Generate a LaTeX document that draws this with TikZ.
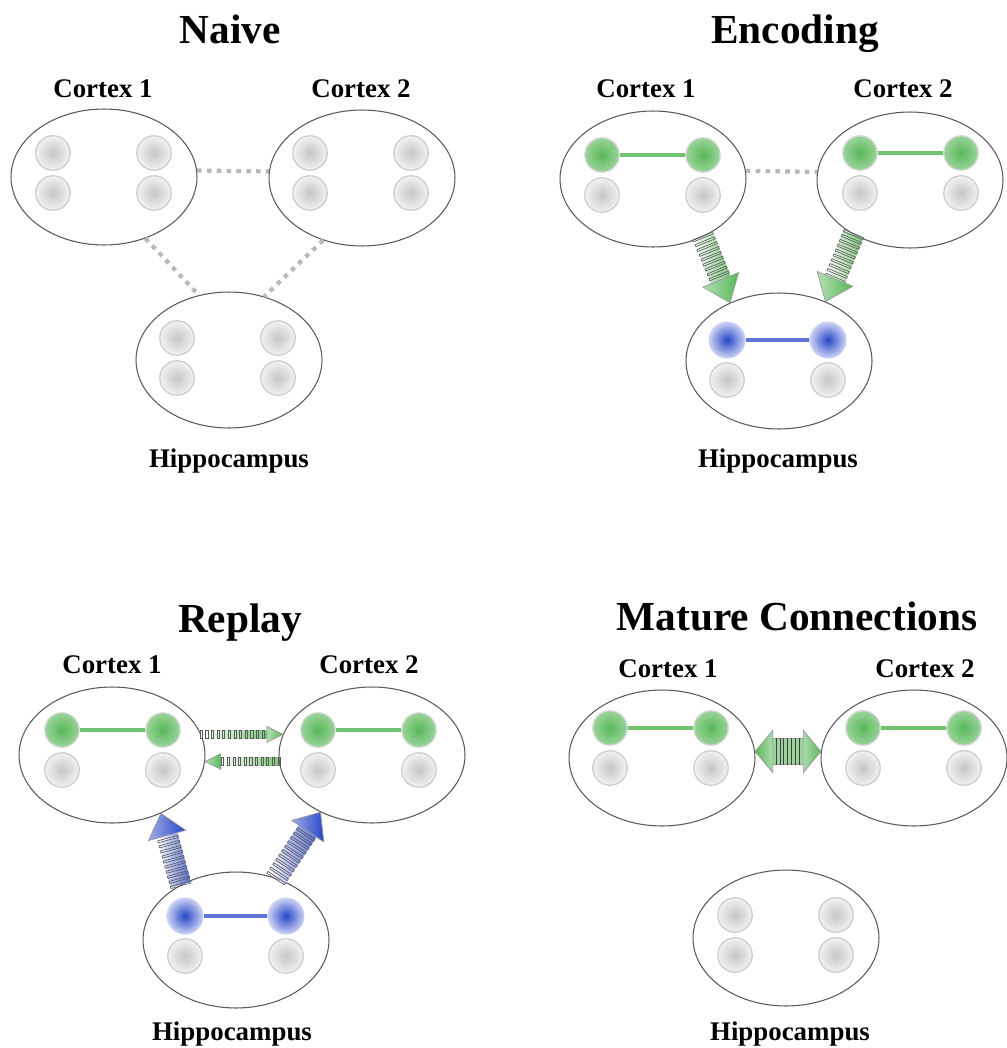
\documentclass[tikz,border=0pt]{standalone}
\usepackage{fontspec}
\setmainfont{Liberation Serif}
\usetikzlibrary{shapes.geometric,decorations.markings}

\definecolor{leafgreen}{RGB}{88,184,88}
\definecolor{palegreen}{RGB}{155,212,155}
\definecolor{inkblue}{RGB}{40,70,200}
\definecolor{paleblue}{RGB}{175,185,238}

\tikzset{
  region/.style={ellipse, draw=black!65, line width=0.6pt, minimum width=3.72cm, minimum height=2.72cm},
  neuron/.style={circle, minimum size=0.69cm, inner sep=0pt, draw=gray!40, line width=0.7pt, inner color=gray!45, outer color=gray!10},
  greenneuron/.style={neuron, draw=gray!30, inner color=leafgreen, outer color=palegreen},
  blueneuron/.style={circle, minimum size=0.74cm, inner sep=0pt, inner color=inkblue, outer color=paleblue!60},
  gline/.style={leafgreen!85, line width=2.6pt},
  bline/.style={inkblue!75, line width=2.2pt},
  link/.style={gray!55, line width=2.4pt, dash pattern=on 2.6pt off 3pt},
  stripe/.style={draw=black!65, line width=0.35pt},
  heading/.style={anchor=base, font=\bfseries\fontsize{23.5}{28}\selectfont},
  areaname/.style={anchor=base, font=\bfseries\fontsize{15.3}{18}\selectfont},
  % colour, half shaft, half head, head length, stripe step
  hatch arrow/.style n args={5}{
    decoration={markings,
      mark=at position 0 with {\shade[left color=white, right color=#1!80] (0,-#2) rectangle (\pgfdecoratedpathlength-#4,#2);},
      mark=between positions 0 and -#4 step #5 with {\draw[stripe] (-0.6pt,-#2) rectangle (0.6pt,#2);},
      mark=at position 1 with {\shadedraw[left color=#1!45, right color=#1, draw=gray!80] (0,0) -- (-#4,#3) -- (-#4,-#3) -- cycle;}},
    postaction=decorate},
  % colour, half shaft, half head, head length
  twin arrow/.style n args={4}{
    decoration={markings,
      mark=at position 0 with {\fill[#1!60] (#4,-#2) rectangle (\pgfdecoratedpathlength-#4,#2);
        \draw[gray!80] (#4,-#2) -- (\pgfdecoratedpathlength-#4,-#2) (#4,#2) -- (\pgfdecoratedpathlength-#4,#2);
        \shadedraw[left color=#1, right color=#1!50, draw=gray!80] (0,0) -- (#4,#3) -- (#4,-#3) -- cycle;},
      mark=between positions 12pt and -12pt step 2.2pt with {\draw[black!75, line width=0.5pt] (0,-#2) -- (0,#2);},
      mark=at position 1 with {\shadedraw[left color=#1!50, right color=#1, draw=gray!80] (0,0) -- (-#4,#3) -- (-#4,-#3) -- cycle;}},
    postaction=decorate},
}

% four cells: name, x and y of the top left one, top style, bottom style
\newcommand{\cellquad}[5]{%
  \node[#4] (#1a) at (#2,#3) {};
  \node[#4] (#1b) at (#2+101,#3) {};
  \node[#5] (#1c) at (#2,#3+40) {};
  \node[#5] (#1d) at (#2+101,#3+40) {};}

\begin{document}
\begin{tikzpicture}[x=0.02cm, y=-0.02cm]
    \useasboundingbox (0,0) rectangle (1007,1048);

    % Naive
    \node[heading] (n-title) at (230,43) {Naive};
    \node[region] (n-c1) at (104,177) {};
    \node[region] (n-c2) at (362,178) {};
    \node[region] (n-h) at (229,360) {};
    \node[areaname] (n-c1-name) at (103,97) {Cortex 1};
    \node[areaname] (n-c2-name) at (361,97) {Cortex 2};
    \node[areaname] (n-h-name) at (229,467) {Hippocampus};
    \cellquad{n-c1}{53}{153}{neuron}{neuron}
    \cellquad{n-c2}{310}{153}{neuron}{neuron}
    \cellquad{n-h}{177}{338}{neuron}{neuron}
    \draw[link] (n-c1.4) -- (n-c2.176);
    \draw[link] (n-c1.-56) -- (n-h.115);
    \draw[link] (n-c2.-122) -- (n-h.61);

    % Encoding
    \node[heading] (e-title) at (795,43) {Encoding};
    \node[region] (e-c1) at (653,179) {};
    \node[region] (e-c2) at (910,180) {};
    \node[region] (e-h) at (779,361) {};
    \node[areaname] (e-c1-name) at (646,97) {Cortex 1};
    \node[areaname] (e-c2-name) at (903,97) {Cortex 2};
    \node[areaname] (e-h-name) at (778,467) {Hippocampus};
    \cellquad{e-c1}{602}{155}{greenneuron}{neuron}
    \cellquad{e-c2}{860}{153}{greenneuron}{neuron}
    \cellquad{e-h}{727}{340}{blueneuron}{neuron}
    \draw[gline] (e-c1a) -- (e-c1b);
    \draw[gline] (e-c2a) -- (e-c2b);
    \draw[bline] (e-ha) -- (e-hb);
    \draw[link] (e-c1.5) -- (e-c2.175);
    \path[hatch arrow={leafgreen}{6pt}{11pt}{14pt}{3pt}] (e-c1.-49) -- (e-h.130);
    \path[hatch arrow={leafgreen}{6pt}{11pt}{14pt}{3pt}] (e-c2.-136) -- (e-h.52);

    % Replay
    \node[heading] (r-title) at (240,632) {Replay};
    \node[region] (r-c1) at (112,755) {};
    \node[region] (r-c2) at (372,755) {};
    \node[region] (r-h) at (236,940) {};
    \node[areaname] (r-c1-name) at (112,673) {Cortex 1};
    \node[areaname] (r-c2-name) at (369,673) {Cortex 2};
    \node[areaname] (r-h-name) at (232,1040) {Hippocampus};
    \cellquad{r-c1}{62}{730}{greenneuron}{neuron}
    \cellquad{r-c2}{318}{730}{greenneuron}{neuron}
    \cellquad{r-h}{185}{916}{blueneuron}{neuron}
    \draw[gline] (r-c1a) -- (r-c1b);
    \draw[gline] (r-c2a) -- (r-c2b);
    \draw[bline] (r-ha) -- (r-hb);
    \path[hatch arrow={leafgreen}{2.2pt}{4.5pt}{9pt}{3.2pt}] (r-c1.13) -- (r-c2.167);
    \path[hatch arrow={leafgreen}{2.2pt}{4.5pt}{9pt}{3.2pt}] (r-c2.-176) -- (r-c1.-4);
    \path[hatch arrow={inkblue}{6pt}{11pt}{13pt}{3pt}] (r-h.135) -- (r-c1.-50);
    \path[hatch arrow={inkblue}{6pt}{11pt}{13pt}{3pt}] (r-h.57) -- (r-c2.-132);

    % Mature connections
    \node[heading] (m-title) at (797,630) {Mature Connections};
    \node[region] (m-c1) at (662,758) {};
    \node[region] (m-c2) at (914,758) {};
    \node[region] (m-h) at (786,938) {};
    \node[areaname] (m-c1-name) at (668,677) {Cortex 1};
    \node[areaname] (m-c2-name) at (925,677) {Cortex 2};
    \node[areaname] (m-h-name) at (790,1040) {Hippocampus};
    \cellquad{m-c1}{610}{728}{greenneuron}{neuron}
    \cellquad{m-c2}{863}{728}{greenneuron}{neuron}
    \cellquad{m-h}{735}{915}{neuron}{neuron}
    \draw[gline] (m-c1a) -- (m-c1b);
    \draw[gline] (m-c2a) -- (m-c2b);
    \path[twin arrow={leafgreen}{7.5pt}{12pt}{10pt}] (m-c1.4) -- (m-c2.176);

\end{tikzpicture}
\end{document}
